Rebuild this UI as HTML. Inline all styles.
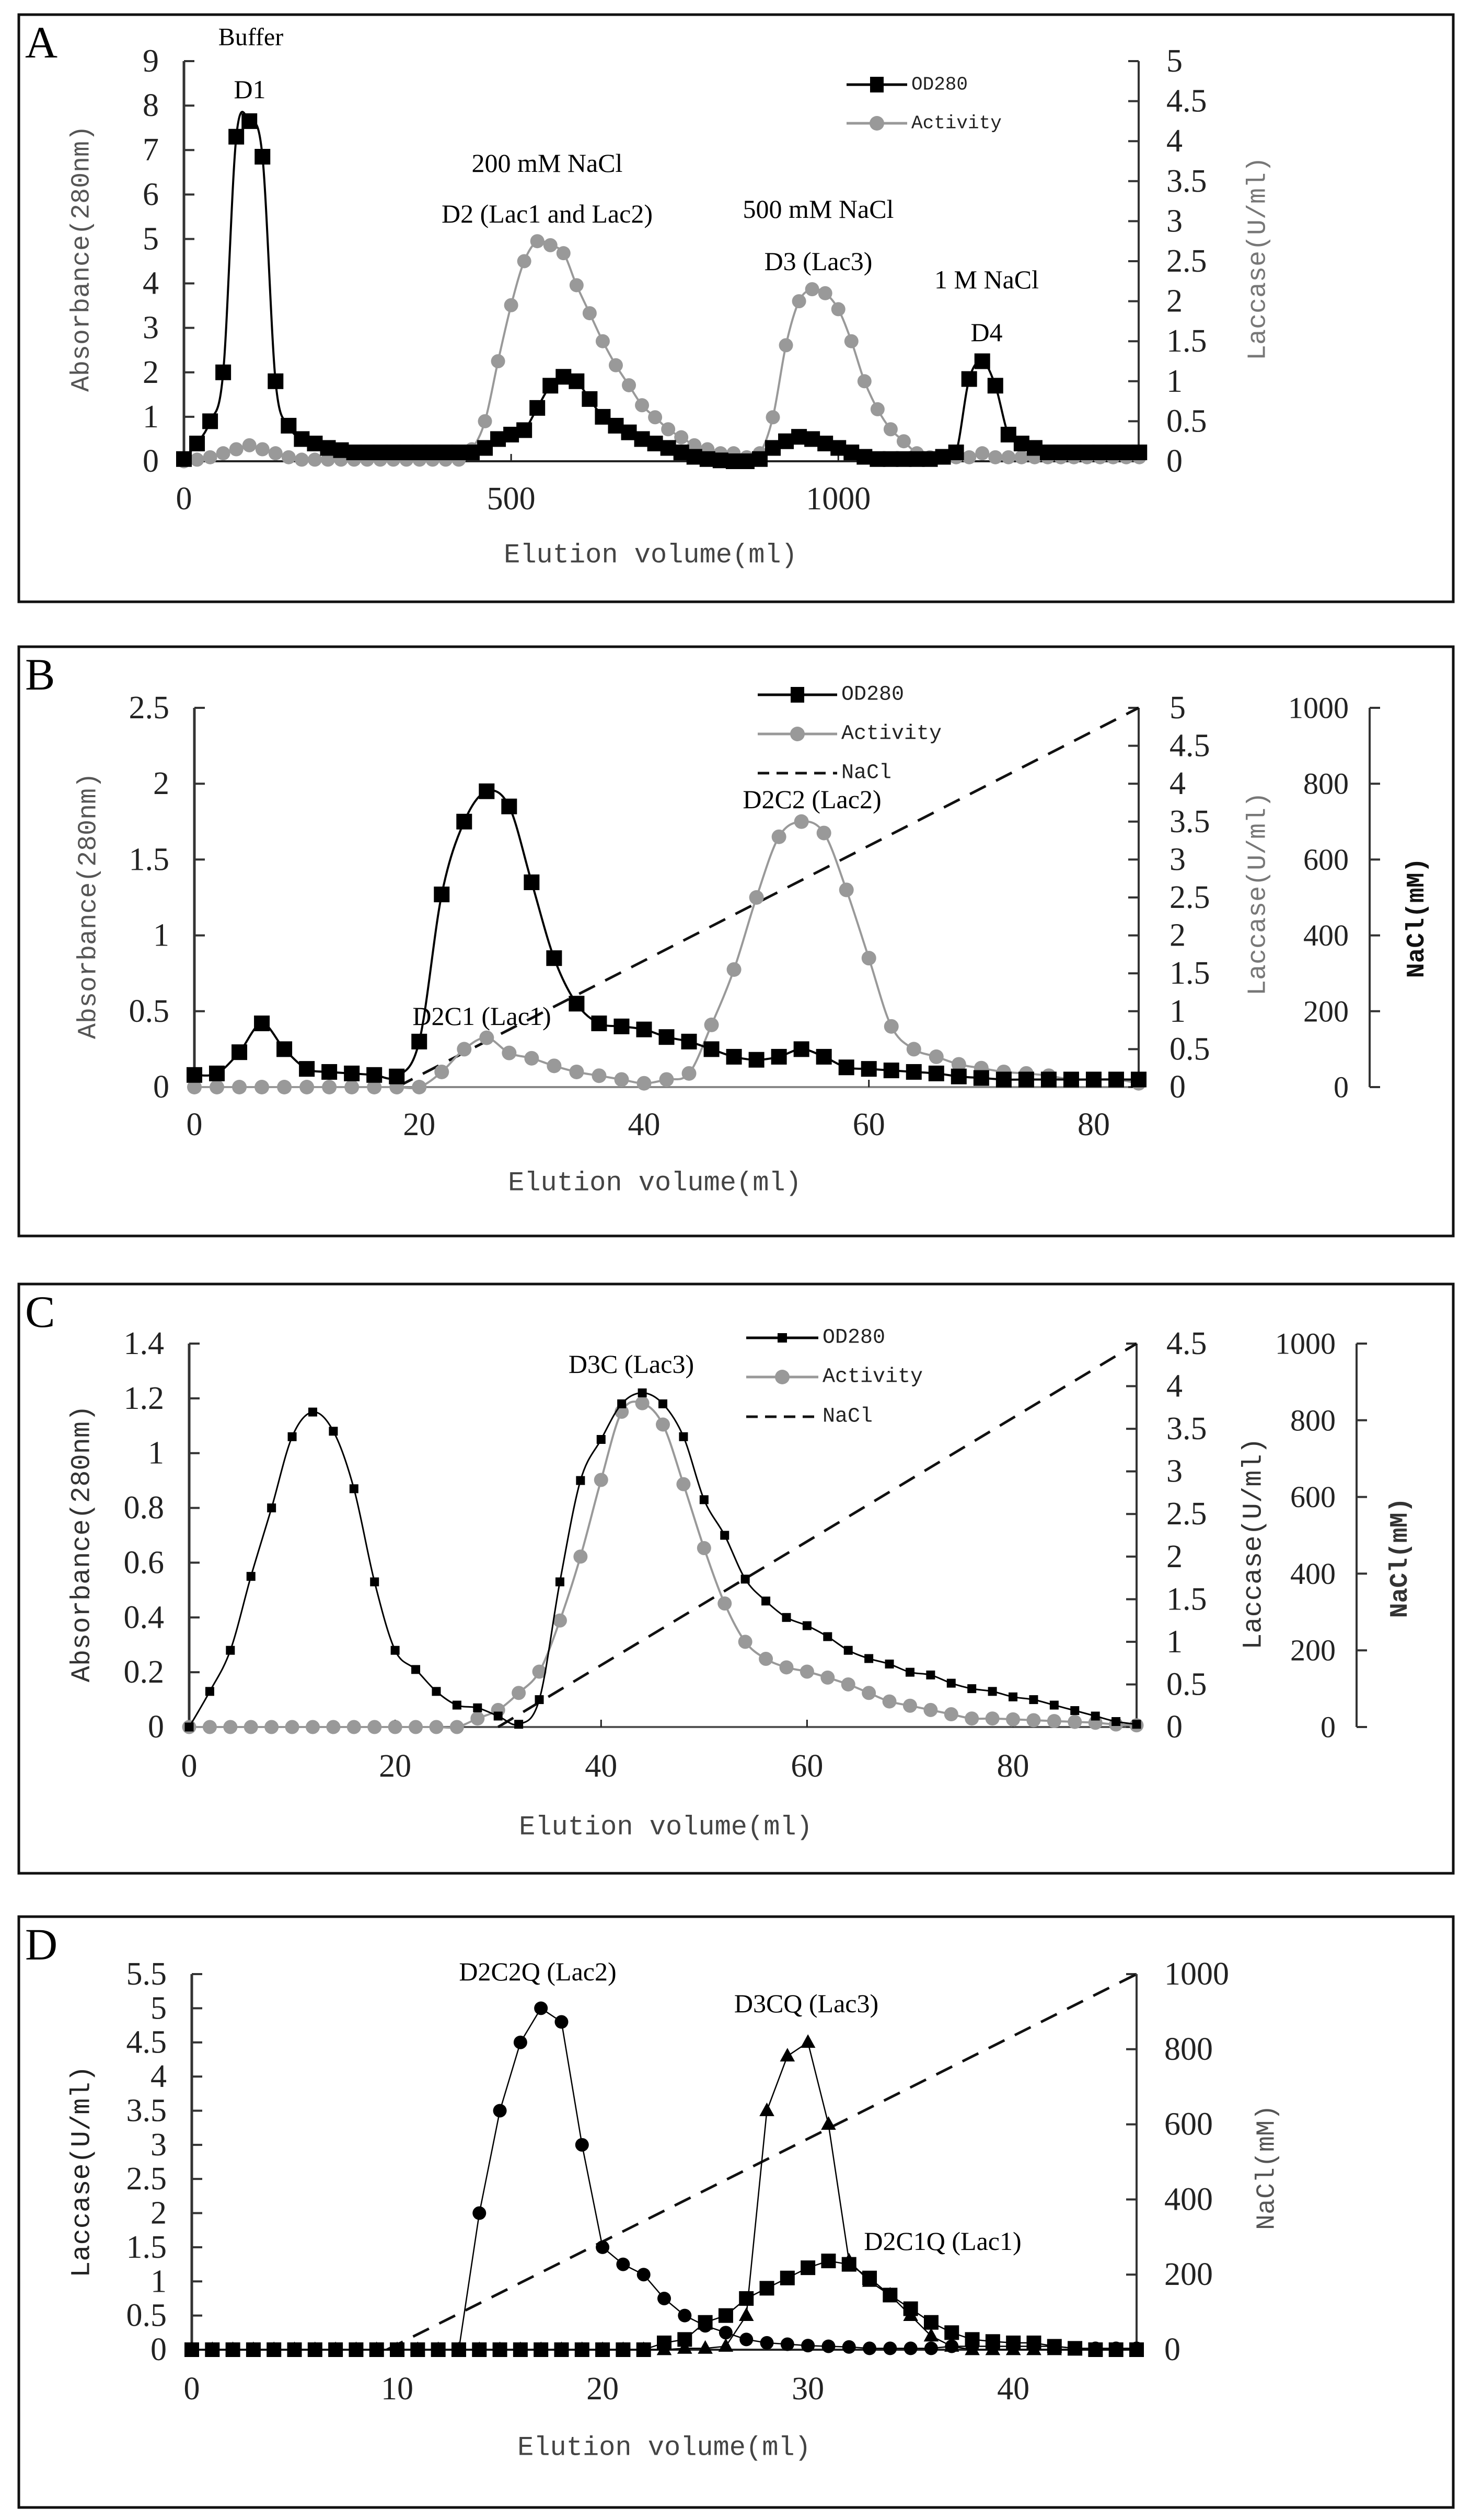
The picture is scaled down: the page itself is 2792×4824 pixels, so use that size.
<!DOCTYPE html>
<html><head><meta charset="utf-8">
<style>
html,body{margin:0;padding:0;background:#fff;}
svg{display:block;}
.serif{font-family:"Liberation Serif",serif;}
.mono{font-family:"Liberation Mono",monospace;}
</style></head>
<body>
<svg id="fig" xmlns="http://www.w3.org/2000/svg" width="2792" height="4824" viewBox="0 0 2792 4824"></svg>
<script>
// ---------- Panel A data ----------
const aVolume = [0,20,40,60,80,100,120,140,160,180,200,220,240,260,280,300,320,340,360,380,400,420,440,460,480,500,520,540,560,580,600,620,640,660,680,700,720,740,760,780,800,820,840,860,880,900,920,940,960,980,1000,1020,1040,1060,1080,1100,1120,1140,1160,1180,1200,1220,1240,1260,1280,1300,1320,1340,1360,1380,1400,1420,1440,1460];
const aOD280 = [0.05,0.4,0.9,2.0,7.3,7.65,6.85,1.8,0.8,0.5,0.4,0.3,0.25,0.2,0.2,0.2,0.2,0.2,0.2,0.2,0.2,0.2,0.2,0.3,0.5,0.6,0.7,1.2,1.7,1.9,1.8,1.4,1.0,0.8,0.65,0.5,0.4,0.3,0.2,0.1,0.05,0.02,0.0,0.0,0.05,0.3,0.45,0.55,0.5,0.4,0.3,0.2,0.1,0.05,0.05,0.05,0.05,0.05,0.1,0.2,1.85,2.25,1.7,0.6,0.4,0.3,0.2,0.2,0.2,0.2,0.2,0.2,0.2,0.2];
const aActivity = [0,0.02,0.05,0.1,0.15,0.2,0.15,0.1,0.05,0.02,0.02,0.02,0.02,0.02,0.02,0.02,0.02,0.02,0.02,0.02,0.02,0.02,0.15,0.5,1.25,1.95,2.5,2.75,2.7,2.6,2.2,1.85,1.5,1.2,0.95,0.7,0.55,0.4,0.3,0.2,0.15,0.1,0.1,0.05,0.1,0.55,1.45,2.0,2.15,2.1,1.9,1.5,1.0,0.65,0.4,0.25,0.1,0.05,0.05,0.05,0.05,0.1,0.05,0.05,0.05,0.05,0.05,0.05,0.05,0.05,0.05,0.05,0.05,0.05];
const aXTicks = [0,500,1000];
const aLeftTicks = [0,1,2,3,4,5,6,7,8,9];
const aRightTicks = [0,0.5,1,1.5,2,2.5,3,3.5,4,4.5,5];

// ---------- Panel B data ----------
const bVolume = [0,2,4,6,8,10,12,14,16,18,20,22,24,26,28,30,32,34,36,38,40,42,44,46,48,50,52,54,56,58,60,62,64,66,68,70,72,74,76,78,80,82,84];
const bOD280 = [0.08,0.09,0.23,0.42,0.25,0.12,0.1,0.09,0.08,0.07,0.3,1.27,1.75,1.95,1.85,1.35,0.85,0.55,0.42,0.4,0.38,0.33,0.3,0.25,0.2,0.18,0.2,0.25,0.2,0.13,0.12,0.11,0.1,0.09,0.07,0.06,0.05,0.05,0.05,0.05,0.05,0.05,0.05];
const bActivity = [0,0,0,0,0,0,0,0,0,0,0,0.2,0.5,0.65,0.45,0.38,0.28,0.2,0.15,0.1,0.05,0.1,0.18,0.82,1.55,2.5,3.3,3.5,3.35,2.6,1.7,0.8,0.5,0.4,0.3,0.25,0.2,0.18,0.15,0.1,0.1,0.1,0.05];
const bNaClX = [18,84];
const bNaClY = [0,1000];
const bXTicks = [0,20,40,60,80];
const bLeftTicks = [0,0.5,1,1.5,2,2.5];
const bRightTicks = [0,0.5,1,1.5,2,2.5,3,3.5,4,4.5,5];
const bNaClTicks = [0,200,400,600,800,1000];

// ---------- Panel C data ----------
const cVolume = [0,2,4,6,8,10,12,14,16,18,20,22,24,26,28,30,32,34,36,38,40,42,44,46,48,50,52,54,56,58,60,62,64,66,68,70,72,74,76,78,80,82,84,86,88,90,92];
const cOD280 = [0,0.13,0.28,0.55,0.8,1.06,1.15,1.08,0.87,0.53,0.28,0.21,0.13,0.08,0.07,0.04,0.01,0.1,0.53,0.9,1.05,1.18,1.22,1.18,1.06,0.83,0.7,0.54,0.46,0.4,0.37,0.33,0.28,0.25,0.23,0.2,0.19,0.16,0.14,0.13,0.11,0.1,0.08,0.06,0.04,0.02,0.01];
const cActivity = [0,0,0,0,0,0,0,0,0,0,0,0,0,0,0.1,0.2,0.4,0.65,1.25,2.0,2.9,3.7,3.8,3.55,2.85,2.1,1.45,1.0,0.8,0.7,0.65,0.58,0.5,0.4,0.3,0.25,0.2,0.15,0.1,0.1,0.09,0.08,0.07,0.06,0.05,0.03,0.02];
const cNaClX = [30,92];
const cNaClY = [0,1000];
const cXTicks = [0,20,40,60,80];
const cLeftTicks = [0,0.2,0.4,0.6,0.8,1,1.2,1.4];
const cRightTicks = [0,0.5,1,1.5,2,2.5,3,3.5,4,4.5];
const cNaClTicks = [0,200,400,600,800,1000];

// ---------- Panel D data ----------
const dVolume = [0,1,2,3,4,5,6,7,8,9,10,11,12,13,14,15,16,17,18,19,20,21,22,23,24,25,26,27,28,29,30,31,32,33,34,35,36,37,38,39,40,41,42,43,44,45,46];
const dLac2 = [0,0,0,0,0,0,0,0,0,0,0,0,0,0,2.0,3.5,4.5,5.0,4.8,3.0,1.5,1.25,1.1,0.75,0.5,0.35,0.25,0.15,0.1,0.08,0.06,0.05,0.04,0.02,0.02,0.02,0.02,0.05,0.05,0.05,0.05,0.05,0.05,0.02,0.02,0.02,0.02];
const dLac3 = [0,0,0,0,0,0,0,0,0,0,0,0,0,0,0,0,0,0,0,0,0,0,0,0,0.02,0.02,0.05,0.5,3.5,4.3,4.5,3.3,1.3,1.0,0.8,0.5,0.2,0.05,0,0,0,0,0,0,0,0,0];
const dLac1 = [0,0,0,0,0,0,0,0,0,0,0,0,0,0,0,0,0,0,0,0,0,0,0,0.1,0.15,0.4,0.5,0.75,0.9,1.05,1.2,1.3,1.25,1.05,0.8,0.6,0.4,0.25,0.15,0.12,0.1,0.1,0.05,0.02,0,0,0];
const dNaClX = [9.5,46];
const dNaClY = [0,1000];
const dXTicks = [0,10,20,30,40];
const dLeftTicks = [0,0.5,1,1.5,2,2.5,3,3.5,4,4.5,5,5.5];
const dNaClTicks = [0,200,400,600,800,1000];

const NS = "http://www.w3.org/2000/svg";
const svg = document.getElementById('fig');
function el(tag, attrs, parent, text){
  const e = document.createElementNS(NS, tag);
  for (const k in attrs) e.setAttribute(k, attrs[k]);
  if (text !== undefined) e.textContent = text;
  (parent || svg).appendChild(e);
  return e;
}
function fmt(v){ return String(v); }

function makePanel(p){
  const g = el('g', {});
  
  
  const box = el('rect', {x:36, y:p.boxTop, width:2745, height:p.boxBot-p.boxTop, fill:'none', stroke:'#111', 'stroke-width':5}, g);
  
  
  const letter = el('text', {x:48, y:p.boxTop+82, 'font-size':86, class:'serif', fill:'#000'}, g, p.letter);
  
  
  return g;
}
function sx(p, v){ return p.xL + (v - 0) * (p.xR - p.xL) / p.xmax; }
function syL(p, v){ return p.yB - v * (p.yB - p.yT) / p.lmax; }
function syR(p, v){ return p.yB - v * (p.yB - p.yT) / p.rmax; }
function syN(p, v){ return p.yB - v * (p.yB - p.yT) / 1000; }

function axes(p, g, xTicks, leftTicks, rightTicks, axisColor){
  const xa = el('line', {x1:p.xL, y1:p.yB, x2:p.xR, y2:p.yB, stroke:axisColor||'#222', 'stroke-width':4}, g);
  
  
  xTicks.forEach(t => {
    const X = sx(p, t);
    el('line', {x1:X, y1:p.yB, x2:X, y2:p.yB-14, stroke:'#222', 'stroke-width':3}, g);
    const tl = el('text', {x:X, y:p.xLabY, 'font-size':62, class:'serif', 'text-anchor':'middle', 'dominant-baseline':'central', fill:'#222'}, g, fmt(t));
    
    
  });
  const la = el('line', {x1:p.xL, y1:p.yT, x2:p.xL, y2:p.yB, stroke:'#333', 'stroke-width':5}, g);
  
  
  leftTicks.forEach(t => {
    const Y = syL(p, t);
    el('line', {x1:p.xL, y1:Y, x2:p.xL+20, y2:Y, stroke:'#333', 'stroke-width':4}, g);
    const tl = el('text', {x:p.xL-48, y:Y, 'font-size':62, class:'serif', 'text-anchor':'end', 'dominant-baseline':'central', fill:'#222'}, g, fmt(t));
    
    
  });
  if (rightTicks){
    const ra = el('line', {x1:p.xR, y1:p.yT, x2:p.xR, y2:p.yB, stroke:'#333', 'stroke-width':4}, g);
    
    
    rightTicks.forEach(t => {
      const Y = syR(p, t);
      el('line', {x1:p.xR, y1:Y, x2:p.xR-20, y2:Y, stroke:'#333', 'stroke-width':4}, g);
      const tl = el('text', {x:p.rLabX, y:Y, 'font-size':62, class:'serif', 'text-anchor':'start', 'dominant-baseline':'central', fill:'#222'}, g, fmt(t));
      
      
    });
  }
}
function naclAxis(p, g, ticks){
  const na = el('line', {x1:p.nX, y1:p.yT, x2:p.nX, y2:p.yB, stroke:'#333', 'stroke-width':4}, g);
  
  
  ticks.forEach(t => {
    const Y = syN(p, t);
    el('line', {x1:p.nX, y1:Y, x2:p.nX+20, y2:Y, stroke:'#333', 'stroke-width':4}, g);
    const tl = el('text', {x:p.nX-40, y:Y, 'font-size':58, class:'serif', 'text-anchor':'end', 'dominant-baseline':'central', fill:'#222'}, g, fmt(t));
    
    
  });
}
function vtitle(g, x, y, txt, size, color, name, bold){
  const t = el('text', {x:x, y:y, 'font-size':size, class:'mono', 'text-anchor':'middle', 'dominant-baseline':'central', fill:color, transform:'rotate(-90 '+x+' '+y+')', 'font-weight':bold?'bold':'normal'}, g, txt);
  
  
}
function htext(g, x, y, txt, size, cls, name, color){
  const t = el('text', {x:x, y:y, 'font-size':size, class:cls, 'text-anchor':'middle', 'dominant-baseline':'central', fill:color||'#000'}, g, txt);
  
  
}
function smoothPath(pts){
  let d = 'M' + pts[0][0].toFixed(1) + ',' + pts[0][1].toFixed(1);
  for (let i = 0; i < pts.length - 1; i++){
    const p0 = pts[Math.max(0, i-1)], p1 = pts[i], p2 = pts[i+1], p3 = pts[Math.min(pts.length-1, i+2)];
    const c1x = p1[0] + (p2[0]-p0[0])/6, c1y = p1[1] + (p2[1]-p0[1])/6;
    const c2x = p2[0] - (p3[0]-p1[0])/6, c2y = p2[1] - (p3[1]-p1[1])/6;
    d += ' C' + c1x.toFixed(1)+','+c1y.toFixed(1)+' '+c2x.toFixed(1)+','+c2y.toFixed(1)+' '+p2[0].toFixed(1)+','+p2[1].toFixed(1);
  }
  return d;
}
function series(p, g, xs, ys, yfn, color, lw, marker, size, name, smooth){
  const pts = xs.map((x,i) => [sx(p,x), yfn(p, ys[i])]);
  let path;
  if (smooth) path = el('path', {d: smoothPath(pts), fill:'none', stroke:color, 'stroke-width':lw, 'stroke-linejoin':'round'}, g);
  else path = el('polyline', {points: pts.map(q=>q[0].toFixed(1)+','+q[1].toFixed(1)).join(' '), fill:'none', stroke:color, 'stroke-width':lw, 'stroke-linejoin':'round'}, g);
  
  
  pts.forEach(q => {
    let m;
    if (marker === 'square') m = el('rect', {x:q[0]-size/2, y:q[1]-size/2, width:size, height:size, fill:color}, g);
    else if (marker === 'circle') m = el('circle', {cx:q[0], cy:q[1], r:size/2, fill:color}, g);
    else m = el('polygon', {points:(q[0])+','+(q[1]-size*0.6)+' '+(q[0]-size*0.55)+','+(q[1]+size*0.4)+' '+(q[0]+size*0.55)+','+(q[1]+size*0.4), fill:color}, g);
    
    
  });
}
function nacl(p, g, xs, ys){
  const l = el('line', {x1:sx(p,xs[0]), y1:syN(p,ys[0]), x2:sx(p,xs[1]), y2:syN(p,ys[1]), stroke:'#111', 'stroke-width':5, 'stroke-dasharray':'34 22'}, g);
  
  
}
function legendEntry(g, x1, x2, y, color, marker, dashed, txt, size){
  el('line', {x1:x1, y1:y, x2:x2, y2:y, stroke:color, 'stroke-width':5, 'stroke-dasharray':dashed?'22 14':'none'}, g);
  const m = (x1+x2)/2;
  if (marker==='square') el('rect', {x:m-13, y:y-15, width:26, height:30, fill:color}, g);
  if (marker==='smallsquare') el('rect', {x:m-9, y:y-9, width:18, height:18, fill:color}, g);
  if (marker==='circle') el('circle', {cx:m, cy:y, r:14, fill:color}, g);
  const t = el('text', {x:x2+8, y:y, 'font-size':size, class:'mono', 'dominant-baseline':'central', fill:'#222'}, g, txt);
  
  
}

// ----- Panel A -----
(function(){
  const p = {name:'panel-a', letter:'A', boxTop:28, boxBot:1152, xL:352, xR:2179, xmax:1459, yB:883, yT:117, lmax:9, rmax:5, xLabY:955, rLabX:2232};
  const g = makePanel(p);
  axes(p, g, aXTicks, aLeftTicks, aRightTicks, '#222');
  series(p, g, aVolume, aActivity, syR, '#999', 4, 'circle', 27, 'activity', true);
  series(p, g, aVolume, aOD280, syL, '#000', 4, 'square', 30, 'od280', true);
  vtitle(g, 157, 495, 'Absorbance(280nm)', 50, '#555', 'left-y-axis-title');
  vtitle(g, 2408, 495, 'Laccase(U/ml)', 50, '#777', 'right-y-axis-title');
  htext(g, 1245, 1063, 'Elution volume(ml)', 52, 'mono', 'x-axis-title', '#444');
  htext(g, 480, 71, 'Buffer', 48, 'serif', 'annotation-buffer');
  htext(g, 478, 171, 'D1', 50, 'serif', 'annotation-d1');
  htext(g, 1047, 312, '200 mM NaCl', 50, 'serif', 'annotation-200mm');
  htext(g, 1047, 409, 'D2 (Lac1 and Lac2)', 50, 'serif', 'annotation-d2');
  htext(g, 1566, 400, '500 mM NaCl', 50, 'serif', 'annotation-500mm');
  htext(g, 1566, 500, 'D3 (Lac3)', 50, 'serif', 'annotation-d3');
  htext(g, 1888, 535, '1 M NaCl', 50, 'serif', 'annotation-1m');
  htext(g, 1888, 636, 'D4', 50, 'serif', 'annotation-d4');
  legendEntry(g, 1620, 1736, 162, '#000', 'square', false, 'OD280', 36);
  legendEntry(g, 1620, 1736, 236, '#999', 'circle', false, 'Activity', 36);
})();

// ----- Panel B -----
(function(){
  const p = {name:'panel-b', letter:'B', boxTop:1238, boxBot:2366, xL:372, xR:2179, xmax:84, yB:2081, yT:1355, lmax:2.5, rmax:5, xLabY:2153, rLabX:2238, nX:2621};
  const g = makePanel(p);
  axes(p, g, bXTicks, bLeftTicks, bRightTicks, '#888');
  naclAxis(p, g, bNaClTicks);
  nacl(p, g, bNaClX, bNaClY);
  series(p, g, bVolume, bActivity, syR, '#999', 4, 'circle', 28, 'activity', true);
  series(p, g, bVolume, bOD280, syL, '#000', 4, 'square', 30, 'od280', true);
  vtitle(g, 170, 1734, 'Absorbance(280nm)', 50, '#555', 'left-y-axis-title');
  vtitle(g, 2408, 1711, 'Laccase(U/ml)', 50, '#777', 'right-y-axis-title');
  vtitle(g, 2712, 1757, 'NaCl(mM)', 48, '#111', 'nacl-axis-title', true);
  htext(g, 1253, 2265, 'Elution volume(ml)', 52, 'mono', 'x-axis-title', '#444');
  htext(g, 1554, 1530, 'D2C2 (Lac2)', 50, 'serif', 'annotation-d2c2');
  htext(g, 922, 1945, 'D2C1 (Lac1)', 50, 'serif', 'annotation-d2c1');
  legendEntry(g, 1450, 1602, 1330, '#000', 'square', false, 'OD280', 40);
  legendEntry(g, 1450, 1602, 1405, '#999', 'circle', false, 'Activity', 40);
  legendEntry(g, 1450, 1602, 1480, '#111', null, true, 'NaCl', 40);
})();

// ----- Panel C -----
(function(){
  const p = {name:'panel-c', letter:'C', boxTop:2458, boxBot:3586, xL:362, xR:2175, xmax:92, yB:3306, yT:2572, lmax:1.4, rmax:4.5, xLabY:3381, rLabX:2232, nX:2596};
  const g = makePanel(p);
  axes(p, g, cXTicks, cLeftTicks, cRightTicks, '#555');
  naclAxis(p, g, cNaClTicks);
  nacl(p, g, cNaClX, cNaClY);
  series(p, g, cVolume, cActivity, syR, '#999', 4, 'circle', 27, 'activity', true);
  series(p, g, cVolume, cOD280, syL, '#000', 3, 'square', 17, 'od280', true);
  vtitle(g, 157, 2955, 'Absorbance(280nm)', 52, '#333', 'left-y-axis-title');
  vtitle(g, 2399, 2955, 'Laccase(U/ml)', 52, '#333', 'right-y-axis-title');
  vtitle(g, 2680, 2982, 'NaCl(mM)', 48, '#333', 'nacl-axis-title', true);
  htext(g, 1274, 3498, 'Elution volume(ml)', 52, 'mono', 'x-axis-title', '#444');
  htext(g, 1208, 2611, 'D3C (Lac3)', 50, 'serif', 'annotation-d3c');
  legendEntry(g, 1428, 1566, 2561, '#000', 'smallsquare', false, 'OD280', 40);
  legendEntry(g, 1428, 1566, 2636, '#999', 'circle', false, 'Activity', 40);
  legendEntry(g, 1428, 1566, 2712, '#111', null, true, 'NaCl', 40);
})();

// ----- Panel D -----
(function(){
  const p = {name:'panel-d', letter:'D', boxTop:3669, boxBot:4800, xL:367, xR:2175, xmax:46, yB:4498, yT:3779, lmax:5.5, rmax:1000, xLabY:4573, rLabX:2228};
  const g = makePanel(p);
  axes(p, g, dXTicks, dLeftTicks, dNaClTicks, '#222');
  nacl(p, g, dNaClX, dNaClY);
  series(p, g, dVolume, dLac2, syL, '#000', 2.5, 'circle', 26, 'lac2', false);
  series(p, g, dVolume, dLac3, syL, '#000', 2.5, 'triangle', 26, 'lac3', false);
  series(p, g, dVolume, dLac1, syL, '#000', 2.5, 'square', 28, 'lac1', false);
  vtitle(g, 157, 4157, 'Laccase(U/ml)', 52, '#222', 'left-y-axis-title');
  vtitle(g, 2425, 4149, 'NaCl(mM)', 50, '#555', 'nacl-axis-title');
  htext(g, 1271, 4686, 'Elution volume(ml)', 52, 'mono', 'x-axis-title', '#444');
  htext(g, 1029, 3774, 'D2C2Q (Lac2)', 50, 'serif', 'annotation-d2c2q');
  htext(g, 1543, 3835, 'D3CQ (Lac3)', 50, 'serif', 'annotation-d3cq');
  htext(g, 1804, 4290, 'D2C1Q (Lac1)', 50, 'serif', 'annotation-d2c1q');
})();
</script>
</body></html>
